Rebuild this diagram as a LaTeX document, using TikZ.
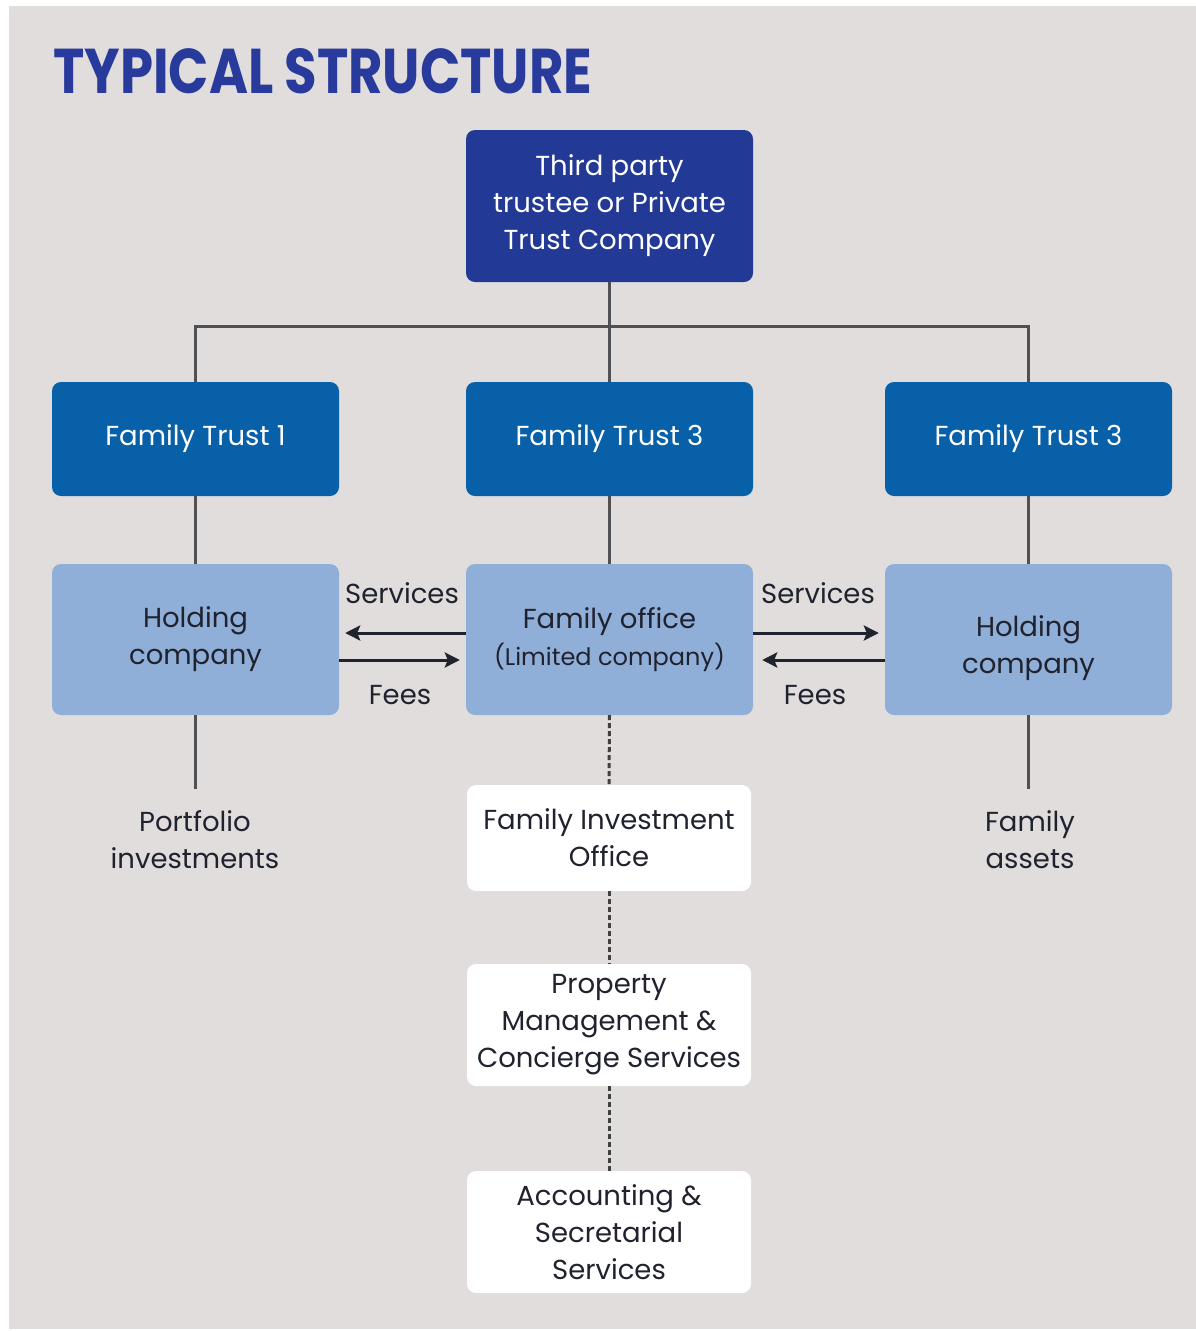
\documentclass[tikz,border=0pt]{standalone}
\usepackage{fontspec}
\setmainfont{Poppins}
\usepackage{graphicx}
\usetikzlibrary{positioning, arrows, arrows.meta, calc}
\definecolor{panelGray}{RGB}{224,221,220}
\definecolor{titleBlue}{RGB}{40,58,155}
\definecolor{trusteeBlue}{RGB}{35,57,150}
\definecolor{trustBlue}{RGB}{7,96,168}
\definecolor{companyBlue}{RGB}{143,174,216}
\definecolor{textDark}{RGB}{32,34,46}
\definecolor{linkGray}{RGB}{80,80,82}
\newcommand{\boxWidth}{287pt}
\newcommand{\textSize}{\fontsize{27.5pt}{37pt}\selectfont}
\newcommand{\smallSize}{\fontsize{24pt}{34pt}\selectfont}
\tikzstyle{box}=[rounded corners=9pt, minimum width=\boxWidth, align=center, inner sep=0pt]
\tikzstyle{trusteeBox}=[box, fill=trusteeBlue, text=white, minimum height=152pt, font=\textSize]
\tikzstyle{trustBox}=[box, fill=trustBlue, text=white, minimum height=114pt, font=\textSize]
\tikzstyle{companyBox}=[box, fill=companyBlue, text=textDark, minimum height=151pt, font=\textSize]
\tikzstyle{serviceBox}=[box, fill=white, text=textDark, minimum width=284pt, font=\textSize]
\tikzstyle{link}=[draw=linkGray, line width=3pt]
\tikzstyle{dottedLink}=[draw=linkGray!80!black, line width=3pt, dash pattern=on 5pt off 3pt]
\tikzstyle{arrow}=[->, >={Stealth[length=15pt, width=15pt, inset=3pt]}, draw=textDark, line width=3pt]
\tikzstyle{dataLabel}=[text=textDark, font=\textSize, align=center, inner sep=0pt]
\tikzstyle{endLabel}=[dataLabel, inner ysep=22pt]
\begin{document}
\begin{tikzpicture}[x=1pt, y=-1pt]
  \useasboundingbox (0,0) rectangle (1196,1331);
  \fill[panelGray] (9,6) rectangle (1196,1329);
  \node[anchor=base west, text=titleBlue, inner sep=0pt] (title) at (53,93)
    {\resizebox{539pt}{45pt}{\bfseries TYPICAL STRUCTURE}};
  % trustee and trusts
  \node[trusteeBox] (trustee) at (609.5,206) {Third party\\trustee or Private\\Trust Company};
  \node[trustBox] (trustA) at (195.5,439) {Family Trust 1};
  \node[trustBox] (trustB) at (609.5,439) {Family Trust 3};
  \node[trustBox] (trustC) at (1028.5,439) {Family Trust 3};
  % companies
  \node[companyBox] (holdingA) at (195.5,639.5) {Holding\\company};
  \node[companyBox] (office) at (609.5,639.5) {Family office\\{\smallSize(Limited company)}};
  \node[companyBox, text height=75pt] (holdingB) at (1028.5,639.5) {Holding\\company};
  \node[endLabel] (portfolio) at (195,840) {Portfolio\\investments};
  \node[endLabel] (assets) at (1030,840) {Family\\assets};
  % services column
  \node[serviceBox, minimum height=106pt] (investOffice) at (609,838) {Family Investment\\Office};
  \node[serviceBox, minimum height=122pt] (property) at (609,1025) {Property\\Management \&\\Concierge Services};
  \node[serviceBox, minimum height=122pt] (accounting) at (609,1232) {Accounting \&\\Secretarial\\Services};
  % connectors
  \coordinate (junction) at (609.5,326);
  \draw[link] (trustee.south) -- (trustB.north);
  \draw[link] (trustA.north) |- (junction) -| (trustC.north);
  \draw[link] (trustA.south) -- (holdingA.north);
  \draw[link] (trustB.south) -- (office.north);
  \draw[link] (trustC.south) -- (holdingB.north);
  \draw[link] (holdingA.south) -- (holdingA.south |- portfolio.north);
  \draw[link] (holdingB.south) -- (holdingB.south |- assets.north);
  \draw[dottedLink] (office.south) -- (investOffice.north);
  \draw[dottedLink] (investOffice.south) -- (property.north);
  \draw[dottedLink] (property.south) -- (accounting.north);
  % services and fees
  \draw[arrow] ([yshift=6.5pt]office.west) -- ([xshift=6pt,yshift=6.5pt]holdingA.east);
  \draw[arrow] ([yshift=-20.5pt]holdingA.east) -- ([xshift=-6pt,yshift=-20.5pt]office.west);
  \draw[arrow] ([yshift=6.5pt]office.east) -- ([xshift=-6pt,yshift=6.5pt]holdingB.west);
  \draw[arrow] ([yshift=-20.5pt]holdingB.west) -- ([xshift=9pt,yshift=-20.5pt]office.east);
  \node[dataLabel] (servicesA) at (402,593) {Services};
  \node[dataLabel] (feesA) at (400,695) {Fees};
  \node[dataLabel] (servicesB) at (818,593) {Services};
  \node[dataLabel] (feesB) at (815,695) {Fees};
\end{tikzpicture}
\end{document}
